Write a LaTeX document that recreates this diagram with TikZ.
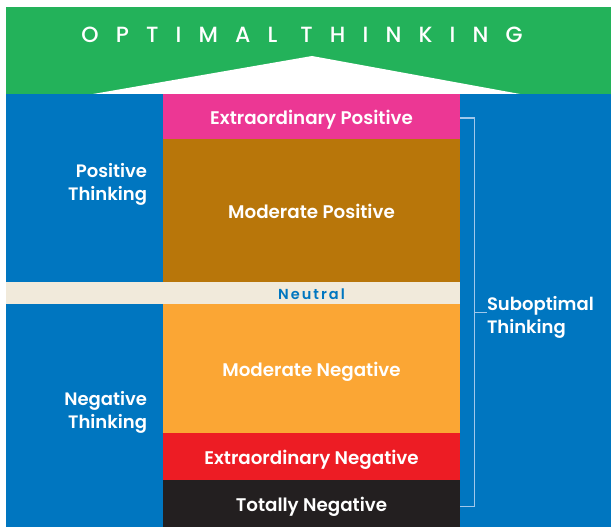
\documentclass[tikz,border=0pt]{standalone}
\usepackage{fontspec}
\setmainfont{Poppins}[BoldFont={Poppins SemiBold}]
\newfontfamily\titlefont{Poppins Medium}
\usepackage{xcolor}
\usetikzlibrary{calc,positioning}

\definecolor{optGreen}{RGB}{35,178,90}
\definecolor{optBlue}{RGB}{0,118,192}
\definecolor{exPos}{RGB}{236,55,148}
\definecolor{modPos}{RGB}{184,118,10}
\definecolor{neutralBg}{RGB}{241,234,219}
\definecolor{modNeg}{RGB}{251,166,52}
\definecolor{exNeg}{RGB}{237,28,36}
\definecolor{totNeg}{RGB}{35,31,32}
\definecolor{brace}{RGB}{160,200,235}

\begin{document}
\begin{tikzpicture}[x=1pt,y=-1pt]
        \tikzstyle{every node}=[inner sep=0pt, outer sep=0pt, text=white]
        \tikzstyle{band}=[anchor=north west, minimum width=297pt, text height=16.5pt, text depth=0pt, font=\bfseries\fontsize{18.3}{20}\selectfont]
        \tikzstyle{side}=[font=\bfseries\fontsize{18}{23}\selectfont]
            \useasboundingbox (0,0) rectangle (611,527);
            \fill[optGreen] (6,7) rectangle (611,94);
            \fill[white] (93,94) -- (312,56) -- (520,94) -- cycle;
            \node[font=\titlefont\fontsize{22}{26}\selectfont\addfontfeature{LetterSpace=78}] (OT) at (302,35) {OPTIMAL THINKING};
            \fill[optBlue] (6,94) rectangle (611,527);

            \node[band, fill=exPos, minimum height=45pt] (EP) at (163,94) {Extraordinary Positive};
            \node[band, fill=modPos, minimum height=143pt] (MP) at (EP.south west) {Moderate Positive};
            \node[band, fill=neutralBg, minimum height=22pt, text height=13.5pt, text=optBlue, font=\bfseries\fontsize{14.5}{16}\selectfont\addfontfeature{LetterSpace=14}] (N) at (MP.south west) {Neutral};
            \node[band, fill=modNeg, minimum height=129pt] (MN) at (N.south west) {Moderate Negative};
            \node[band, fill=exNeg, minimum height=47pt] (EN) at (MN.south west) {Extraordinary Negative};
            \node[band, fill=totNeg, minimum height=47pt] (TN) at (EN.south west) {Totally Negative};
            \fill[neutralBg] (6,282) rectangle (N.south west);

            \node[side, align=right, anchor=east] (PT) at (147,184) {Positive\\Thinking};
            \node[side, align=right, anchor=east] (NT) at (147,412) {Negative\\Thinking};
            \node[side, align=left, anchor=west] (ST) at (487,317) {Suboptimal\\Thinking};

            \coordinate (BT) at (474,118);
            \coordinate (BB) at (474,506);
            \coordinate (BM) at (474,312);
            \draw[brace, line width=1pt] (EP.east |- BT) -- (BT) -- (BB) -- (TN.east |- BB);
            \draw[brace, line width=1pt] (BM) -- (ST.west |- BM);

        \end{tikzpicture}
\end{document}
